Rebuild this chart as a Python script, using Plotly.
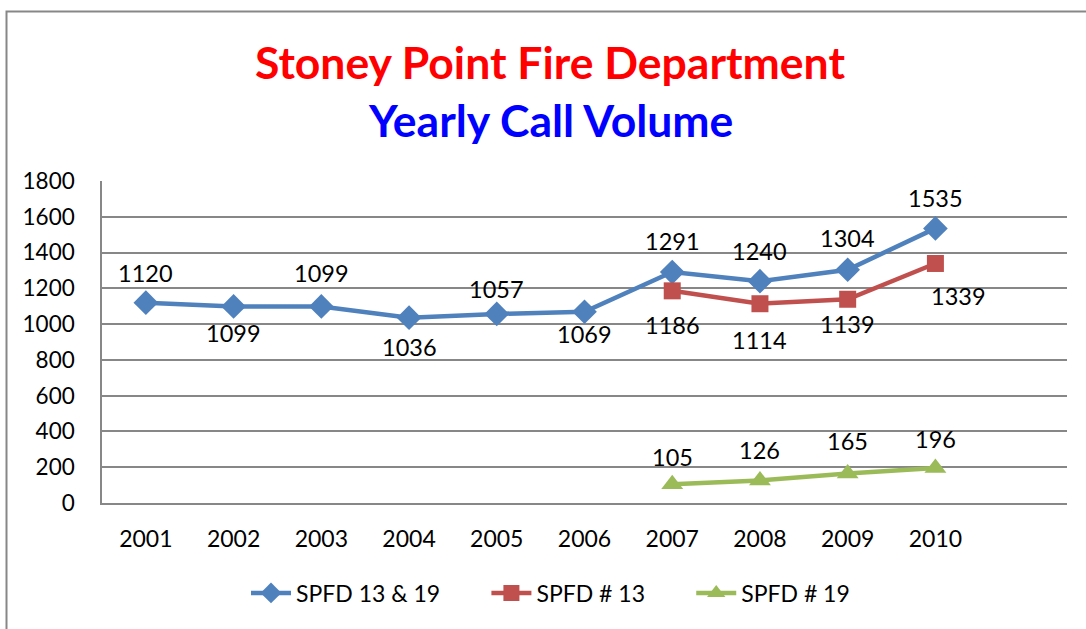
import plotly.graph_objects as go

years = [2001, 2002, 2003, 2004, 2005, 2006, 2007, 2008, 2009, 2010]
total = [1120, 1099, 1099, 1036, 1057, 1069, 1291, 1240, 1304, 1535]
st13_years = [2007, 2008, 2009, 2010]
st13 = [1186, 1114, 1139, 1339]
st19_years = [2007, 2008, 2009, 2010]
st19 = [105, 126, 165, 196]
y_ticks = [0, 200, 400, 600, 800, 1000, 1200, 1400, 1600, 1800]

names = ["SPFD 13 & 19", "SPFD # 13", "SPFD # 19"]
colors = ["#4F81BD", "#C0504D", "#9BBB59"]
symbols = ["diamond", "square", "triangle-up"]
msize = [19, 17, 19]
legend_pad = [7, 7, 0]  # non-breaking spaces after each legend entry

# label offsets (pixels): (xshift, yshift)
total_off = [(0, 30), (0, -27), (0, 33), (0, -29), (0, 25), (0, -22),
             (0, 31), (0, 30), (0, 32), (0, 30)]
st13_off = [(0, -34), (0, -36), (0, -25), (23, -33)]
st19_off = [(0, 27), (0, 30), (0, 32), (0, 29)]

W, H = 1086, 629
L, R, T, B = 102, 1067, 181, 503

FONT = "Lato"

fig = go.Figure()
series = [(years, total), (st13_years, st13), (st19_years, st19)]
for i, (xs, ys) in enumerate(series):
    fig.add_trace(go.Scatter(
        x=xs, y=ys, mode="lines+markers", name=names[i] + "\u00a0" * legend_pad[i],
        line=dict(color=colors[i], width=4.5),
        marker=dict(symbol=symbols[i], size=msize[i], color=colors[i]),
    ))

annotations = []
for (xs, ys), offs in zip(series, [total_off, st13_off, st19_off]):
    for x, y, (dx, dy) in zip(xs, ys, offs):
        annotations.append(dict(
            x=x, y=y, xref="x", yref="y", text=str(y), showarrow=False,
            xshift=dx, yshift=dy, font=dict(family=FONT, size=23.5, color="black"),
            xanchor="center", yanchor="middle"))

def px_x(p):
    return (p - L) / (R - L)

def px_y(p):
    return (B - p) / (B - T)

annotations.append(dict(
    x=px_x(550), y=px_y(62), xref="paper", yref="paper", showarrow=False,
    text="<b>Stoney Point Fire Department</b>", xanchor="center", yanchor="middle",
    font=dict(family=FONT, size=44.5, color="#FF0000")))
annotations.append(dict(
    x=px_x(550), y=px_y(119), xref="paper", yref="paper", showarrow=False,
    text="<b>Yearly Call Volume</b>", xanchor="center", yanchor="middle",
    font=dict(family=FONT, size=44.5, color="#0000FF")))

shapes = [dict(type="rect", xref="paper", yref="paper",
               x0=px_x(6.5), x1=px_x(1095), y0=px_y(11.5), y1=px_y(650),
               line=dict(color="#878787", width=2), fillcolor="rgba(0,0,0,0)",
               layer="below")]

fig.update_layout(
    width=W, height=H,
    margin=dict(l=L, r=W - R, t=T, b=H - B, pad=0),
    paper_bgcolor="white", plot_bgcolor="white",
    font=dict(family=FONT, size=22, color="black"),
    showlegend=True,
    legend=dict(orientation="h", x=px_x(246), y=px_y(593), xanchor="left",
                yanchor="middle", font=dict(family=FONT, size=23, color="black"),
                itemwidth=40, tracegroupgap=0),
    annotations=annotations,
    shapes=shapes,
    xaxis=dict(range=[2000.5, 2011.5], tickmode="array", tickvals=years,
               ticktext=[str(y) for y in years], showgrid=False, zeroline=False,
               showline=True, linecolor="#878787", linewidth=1.5,
               ticks="outside", ticklen=15, tickcolor="rgba(0,0,0,0)",
               tickfont=dict(family=FONT, size=23), fixedrange=True),
    yaxis=dict(range=[0, 1800], tickmode="array", tickvals=y_ticks,
               showgrid=True, gridcolor="#878787", gridwidth=1.5, zeroline=False,
               showline=True, linecolor="#878787", linewidth=1.5,
               ticks="outside", ticklen=21, tickcolor="rgba(0,0,0,0)",
               tickfont=dict(family=FONT, size=22.5), fixedrange=True),
)

fig.write_html("out.html", config={"displayModeBar": False},
               post_script="document.body.style.margin='0';")
